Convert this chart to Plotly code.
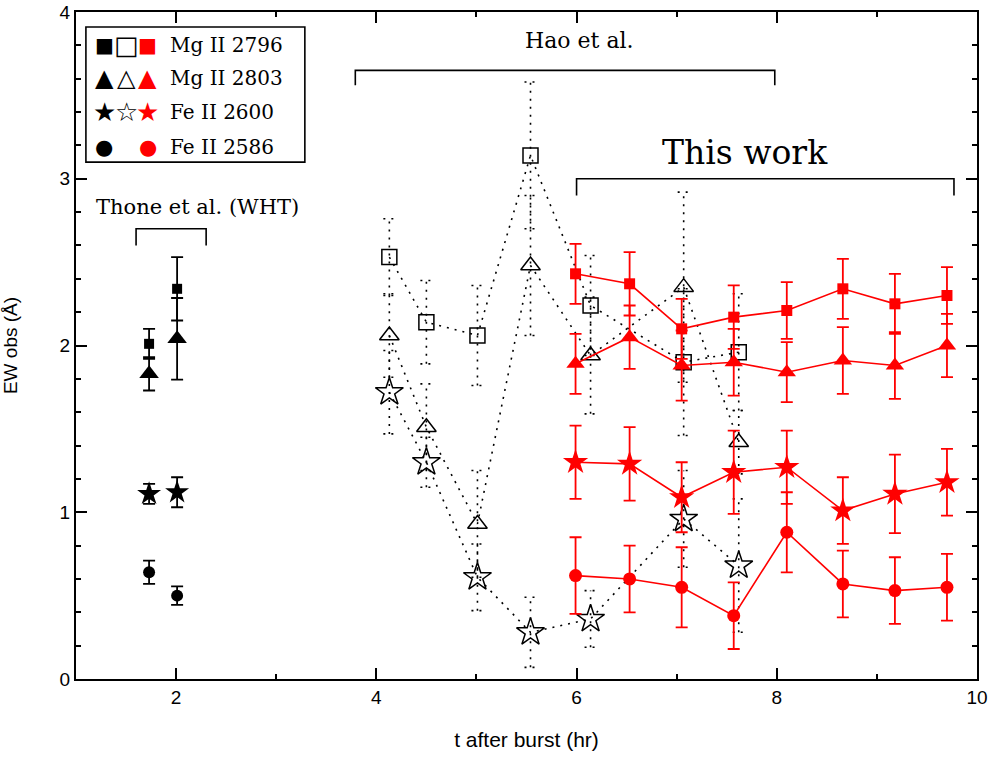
import plotly.graph_objects as go

# ---------------- data ----------------
# Thone et al. (WHT)
thone_t = [1.73, 2.01]
thone_mg2796 = [2.01, 2.34]
thone_mg2796_err = [0.09, 0.19]
thone_mg2803 = [1.83, 2.04]
thone_mg2803_err = [0.10, 0.245]
thone_fe2600 = [1.11, 1.12]
thone_fe2600_err = [0.06, 0.09]
thone_fe2586 = [0.64, 0.50]
thone_fe2586_err = [0.07, 0.055]

# Hao et al.
hao_t = [4.13, 4.50, 5.01, 5.54, 6.14, 7.07, 7.62]
hao_mg2796 = [2.53, 2.14, 2.06, 3.14, 2.24, 1.90, 1.96]
hao_mg2796_err = [0.23, 0.25, 0.30, 0.44, 0.30, 0.44, 0.35]
hao_mg2803 = [2.06, 1.51, 0.93, 2.48, 1.94, 2.35, 1.42]
hao_mg2803_err = [0.25, 0.26, 0.32, 0.42, 0.35, 0.57, 0.19]
hao_fe2600 = [1.72, 1.30, 0.61, 0.28, 0.36, 0.96, 0.68]
hao_fe2600_err = [0.25, 0.15, 0.20, 0.21, 0.17, 0.29, 0.40]

# This work
tw_t = [5.99, 6.53, 7.05, 7.57, 8.10, 8.66, 9.18, 9.70]
tw_mg2796 = [2.43, 2.37, 2.10, 2.17, 2.21, 2.34, 2.25, 2.30]
tw_mg2796_err = [0.18, 0.19, 0.18, 0.19, 0.17, 0.18, 0.18, 0.17]
tw_mg2803 = [1.89, 2.05, 1.88, 1.90, 1.84, 1.91, 1.88, 2.00]
tw_mg2803_err = [0.18, 0.19, 0.21, 0.20, 0.18, 0.20, 0.20, 0.19]
tw_fe2600 = [1.30, 1.29, 1.09, 1.24, 1.27, 1.01, 1.11, 1.18]
tw_fe2600_err = [0.22, 0.22, 0.21, 0.25, 0.22, 0.20, 0.235, 0.20]
tw_fe2586 = [0.62, 0.60, 0.55, 0.38, 0.88, 0.57, 0.53, 0.55]
tw_fe2586_err = [0.23, 0.20, 0.24, 0.20, 0.24, 0.20, 0.20, 0.20]

legend_labels = ["Mg II 2796", "Mg II 2803", "Fe II 2600", "Fe II 2586"]

# bracket annotations (x start, x end, y of bar, y of tick ends)
thone_bracket = [1.60, 2.30, 2.70, 2.60]
hao_bracket = [3.79, 7.98, 3.65, 3.56]
tw_bracket = [6.00, 9.77, 3.00, 2.90]

TEXT_FONT = "DejaVu Serif"
TICK_FONT = "Liberation Sans Narrow, Liberation Sans, Arial Narrow, sans-serif"

fig = go.Figure()


def dotted_errbars(xs, ys, es, cap=0.06):
    X, Y = [], []
    for x, y, e in zip(xs, ys, es):
        X += [x, x, None, x - cap, x + cap, None, x - cap, x + cap, None]
        Y += [y - e, y + e, None, y + e, y + e, None, y - e, y - e, None]
    return X, Y


# ---- Hao et al. (open symbols, dotted) ----
hao_series = [
    (hao_mg2796, hao_mg2796_err, "square-open", 15),
    (hao_mg2803, hao_mg2803_err, "triangle-up-open", 17),
    (hao_fe2600, hao_fe2600_err, "star-open", 21),
]
for ys, es, sym, size in hao_series:
    ex, ey = dotted_errbars(hao_t, ys, es)
    fig.add_trace(go.Scatter(x=ex, y=ey, mode="lines",
                             line=dict(color="black", width=1.6, dash="2px,6px"),
                             showlegend=False, hoverinfo="skip"))
    fig.add_trace(go.Scatter(x=hao_t, y=ys, mode="lines+markers",
                             line=dict(color="black", width=1.6, dash="2px,6px"),
                             marker=dict(symbol=sym, size=size, color="black",
                                         line=dict(width=1.5, color="black")),
                             showlegend=False))

# ---- This work (red, solid) ----
tw_series = [
    (tw_mg2796, tw_mg2796_err, "square", 11),
    (tw_mg2803, tw_mg2803_err, "triangle-up", 16),
    (tw_fe2600, tw_fe2600_err, "star", 19),
    (tw_fe2586, tw_fe2586_err, "circle", 13),
]
for ys, es, sym, size in tw_series:
    fig.add_trace(go.Scatter(x=tw_t, y=ys, mode="lines+markers",
                             line=dict(color="#ff0000", width=1.6),
                             marker=dict(symbol=sym, size=size, color="#ff0000"),
                             error_y=dict(type="data", array=es, color="#ff0000",
                                          thickness=1.8, width=6),
                             showlegend=False))

# ---- Thone et al. (black filled) ----
thone_series = [
    (thone_mg2796, thone_mg2796_err, "square", 10),
    (thone_mg2803, thone_mg2803_err, "triangle-up", 17),
    (thone_fe2600, thone_fe2600_err, "star", 18),
    (thone_fe2586, thone_fe2586_err, "circle", 12),
]
for ys, es, sym, size in thone_series:
    fig.add_trace(go.Scatter(x=thone_t, y=ys, mode="markers",
                             marker=dict(symbol=sym, size=size, color="black"),
                             error_y=dict(type="data", array=es, color="black",
                                          thickness=1.8, width=6),
                             showlegend=False))

# ---- brackets ----
shapes = []
for x0, x1, yb, yt in [thone_bracket, hao_bracket, tw_bracket]:
    shapes.append(dict(type="path", xref="x", yref="y",
                       path=f"M {x0},{yt} L {x0},{yb} L {x1},{yb} L {x1},{yt}",
                       line=dict(color="black", width=1.6)))

# legend box (paper coords)
shapes.append(dict(type="rect", xref="paper", yref="paper",
                   x0=0.011, x1=0.254, y0=0.775, y1=0.9775,
                   line=dict(color="black", width=1.6), fillcolor="white",
                   layer="below"))

annotations = [
    dict(text="Thone et al. (WHT)", x=2.21, y=2.83, xref="x", yref="y",
         showarrow=False, font=dict(family=TEXT_FONT, size=21, color="black")),
    dict(text="Hao et al.", x=6.03, y=3.83, xref="x", yref="y",
         showarrow=False, font=dict(family=TEXT_FONT, size=22, color="black")),
    dict(text="This work", x=7.68, y=3.16, xref="x", yref="y",
         showarrow=False, font=dict(family=TEXT_FONT, size=33, color="black")),
]

# legend content
row_y = [0.9505, 0.901, 0.850, 0.7976]
col_x = [0.0311, 0.0555, 0.0799]
row_syms = [
    (("■", 20), ("□", 26), ("■", 20)),
    (("▲", 24), ("△", 24), ("▲", 24)),
    (("★", 26), ("☆", 26), ("★", 26)),
    (("●", 21), ("", 21), ("●", 21)),
]
for syms, yy, lab in zip(row_syms, row_y, legend_labels):
    for (sym, fs), xx, col in zip(syms, col_x, ["black", "black", "#ff0000"]):
        if sym:
            annotations.append(dict(text=sym, x=xx, y=yy, xref="paper", yref="paper",
                                    showarrow=False, xanchor="center", yanchor="middle",
                                    font=dict(family="DejaVu Sans", size=fs, color=col)))
    annotations.append(dict(text=lab, x=0.1021, y=yy, xref="paper", yref="paper",
                            showarrow=False, xanchor="left", yanchor="middle",
                            font=dict(family=TEXT_FONT, size=20, color="black")))

axis_common = dict(showgrid=False, zeroline=False, showline=True, linecolor="black",
                   linewidth=2, mirror="ticks", ticks="inside", tickcolor="black",
                   tickwidth=1.5, ticklen=11, automargin=False,
                   ticklabeloverflow="allow",
                   tickfont=dict(family=TICK_FONT, size=19, color="black"))

fig.update_layout(
    width=992, height=760,
    margin=dict(l=76, r=15, t=12, b=81),
    paper_bgcolor="white", plot_bgcolor="white",
    shapes=shapes, annotations=annotations,
    xaxis=dict(range=[1, 10], dtick=2, tick0=0,
               minor=dict(dtick=1, ticks="inside", ticklen=5, tickcolor="black", tickwidth=1.5),
               title=dict(text="t after burst (hr)", standoff=26,
                          font=dict(family=TICK_FONT, size=21, color="black")),
               **axis_common),
    yaxis=dict(range=[0, 4], dtick=1, tick0=0,
               minor=dict(dtick=0.2, ticks="inside", ticklen=5, tickcolor="black", tickwidth=1.5),
               title=dict(text="EW obs (Å)", standoff=42,
                          font=dict(family=TICK_FONT, size=19, color="black")),
               **axis_common),
)

# remove the default page margin so the figure fills the window exactly
fig.write_html("out.html", config={"displayModeBar": False},
               post_script="document.body.style.margin='0';")
